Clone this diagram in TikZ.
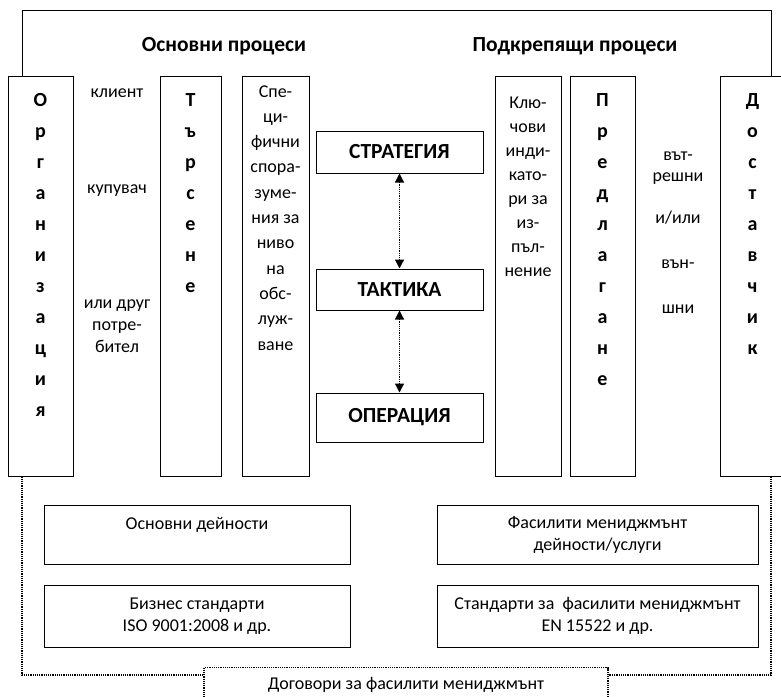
\documentclass[tikz,border=0pt]{standalone}
\usepackage{fontspec}
\setmainfont{Carlito}
\usetikzlibrary{arrows.meta}

\tikzset{
  txt/.style={font=\fontsize{18}{22}\selectfont, inner sep=0pt},
  lettr/.style={font=\fontsize{20}{24}\selectfont\bfseries, inner sep=0pt, anchor=base},
  title/.style={font=\fontsize{21.5}{24}\selectfont\bfseries, inner sep=0pt, anchor=base},
  column/.style={draw, line width=1pt, minimum height=400pt, inner sep=0pt},
  level/.style={draw, line width=1pt, minimum width=167pt, inner sep=0pt,
    font=\fontsize{21.5}{24}\selectfont\bfseries},
  infobox/.style={draw, line width=1pt, inner sep=0pt, align=center,
    font=\fontsize{18}{22}\selectfont},
  dotframe/.style={line width=1.2pt, densely dotted},
  dotarrow/.style={line width=1.2pt, densely dotted,
    {Triangle[width=9pt,length=9pt]}-{Triangle[width=9pt,length=9pt]}}
}

\begin{document}
\begin{tikzpicture}[x=1pt,y=-1pt]
\path[use as bounding box, clip] (0,0) rectangle (781,696);
\coordinate (tl) at (22,10);
\coordinate (tr) at (771,10);
\coordinate (bl) at (22,675);
\coordinate (br) at (771,675);

% column boxes
\node[column, minimum width=65pt] (org) at (40.5,276) {};
\node[column, minimum width=61pt] (tars) at (190.5,276) {};
\node[column, minimum width=67pt] (spec) at (275.5,276) {};
\node[column, minimum width=66pt] (kpi) at (528,276) {};
\node[column, minimum width=65pt] (pred) at (602.5,276) {};
\node[column, minimum width=65pt] (dost) at (752.5,276) {};

\node[title] (main) at (224,51) {Основни процеси};
\node[title] (supp) at (575,51) {Подкрепящи процеси};

% vertical words
\foreach \l [count=\i from 0] in {О,р,г,а,н,и,з,а,ц,и,я}
	\node[lettr] (org-\i) at (40.5,106+31*\i) {\l};
\foreach \l [count=\i from 0] in {Т,ъ,р,с,е,н,е}
	\node[lettr] (tars-\i) at (190.5,106+31*\i) {\l};
\foreach \l [count=\i from 0] in {П,р,е,д,л,а,г,а,н,е}
	\node[lettr] (pred-\i) at (602.5,106+31*\i) {\l};
\foreach \l [count=\i from 0] in {Д,о,с,т,а,в,ч,и,к}
	\node[lettr] (dost-\i) at (752.5,106+31*\i) {\l};

\foreach \t [count=\i from 0] in {Спе-,ци-,фични,спора-,зуме-,ния за,ниво,на,обс-,луж-,ване}
	\node[txt, anchor=base] (spec-\i) at (275.5,97+25.3*\i) {\t};
\foreach \t [count=\i from 0] in {Клю-,чови,инди-,като-,ри за,из-,пъл-,нение}
	\node[txt, anchor=base] (kpi-\i) at (528,108+24*\i) {\t};

% side words
\foreach \t/\y [count=\i from 0] in {клиент/97,купувач/193,или друг/308,потре-/330,бител/352.5}
	\node[txt, anchor=base] (cust-\i) at (117,\y) {\t};
\foreach \t/\y [count=\i from 0] in {вът-/160,решни/181,{и/или}/223,вън-/268,шни/313}
	\node[txt, anchor=base] (sup-\i) at (678,\y) {\t};

% levels
\node[level, minimum height=42pt] (strat) at (399.5,152) {СТРАТЕГИЯ};
\node[level, minimum height=41pt] (takt) at (399.5,289.5) {ТАКТИКА};
\node[level, minimum height=49pt] (oper) at (399.5,417.5) {ОПЕРАЦИЯ};
\draw[dotarrow] (strat.south) -- (takt.north);
\draw[dotarrow] (takt.south) -- (oper.north);

% lower boxes
\node[infobox, minimum width=306pt, minimum height=59pt] (osn) at (197,534.5) {Основни дейности\\ ~};
\node[infobox, minimum width=321pt, minimum height=59pt] (fm) at (597.5,534.5) {Фасилити мениджмънт\\дейности/услуги};
\node[infobox, minimum width=306pt, minimum height=62pt] (biz) at (197,616) {Бизнес стандарти\\ISO 9001:2008 и др.};
\node[infobox, minimum width=321pt, minimum height=62pt] (std) at (597.5,616) {Стандарти за~ фасилити мениджмънт\\EN 15522 и др.};
\node[infobox, dotframe, anchor=north, minimum width=404pt, inner ysep=10pt, text depth=20pt] (dog) at (406,667) {Договори за фасилити мениджмънт};

% frames
\draw[line width=1pt] (org.north -| tl) -- (tl) -- (tr) -- (tr |- dost.north);
\draw[dotframe] (org.south -| bl) -- (bl) -- (bl -| dog.west);
\draw[dotframe] (dost.south -| br) -- (br) -- (br -| dog.east);
\end{tikzpicture}
\end{document}
